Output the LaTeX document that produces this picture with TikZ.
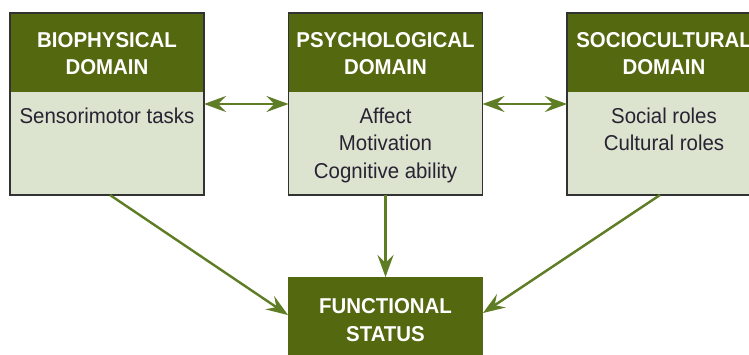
\documentclass[tikz,border=0pt]{standalone}
\usepackage{fontspec}
\setmainfont[FakeStretch=0.95]{Liberation Sans}
\usetikzlibrary{arrows.meta}
\definecolor{hdrgreen}{RGB}{84,104,16}
\definecolor{bodygreen}{RGB}{220,227,207}
\definecolor{arrowgreen}{RGB}{94,125,36}
\definecolor{edgegrey}{RGB}{50,50,50}
\definecolor{txtdark}{RGB}{40,35,50}
\begin{document}
\begin{tikzpicture}[x=1pt,y=-1pt,
  bodybox/.style={fill=bodygreen,minimum width=194pt,minimum height=182pt,anchor=north west,inner sep=0pt,outer sep=0pt},
  hdrbox/.style={fill=hdrgreen,minimum width=194pt,minimum height=79pt,anchor=north west,inner sep=0pt,outer sep=0pt},
  frame/.style={draw=edgegrey,line width=1.6pt},
  fsbox/.style={fill=hdrgreen,minimum width=195pt,minimum height=84pt,anchor=north west,inner sep=0pt,outer sep=0pt},
  hdrtext/.style={text=white,font=\fontsize{21.5}{27}\selectfont\bfseries,align=center,anchor=north,inner sep=0pt},
  bodytext/.style={text=txtdark,font=\fontsize{21.5}{27.5}\selectfont,align=center,anchor=north,inner sep=0pt},
  link/.style={draw=arrowgreen,line width=2.4pt,-{Stealth[length=22pt,width=16pt,inset=8pt]}},
  duallink/.style={draw=arrowgreen,line width=2.4pt,{Stealth[length=22pt,width=16pt,inset=8pt]}-{Stealth[length=22pt,width=16pt,inset=8pt]}}]
\useasboundingbox (0,0) rectangle (749,354);
\fill[white] (0,0) rectangle (749,354);
% boxes
\node[bodybox] (b1) at (10,13) {};
\node[hdrbox] (h1) at (10,13) {};
\draw[frame] (b1.north west) rectangle (b1.south east);
\node[bodybox] (b2) at (288.5,13) {};
\node[hdrbox] (h2) at (288.5,13) {};
\draw[frame] (b2.north west) rectangle (b2.south east);
\node[bodybox] (b3) at (567,13) {};
\node[hdrbox] (h3) at (567,13) {};
\draw[frame] (b3.north west) rectangle (b3.south east);
\node[fsbox] (fs) at (288,277) {};
% texts
\node[hdrtext] (t1) at (107,32.6) {BIOPHYSICAL\\DOMAIN};
\node[hdrtext] (t2) at (385.5,32.6) {PSYCHOLOGICAL\\DOMAIN};
\node[hdrtext] (t3) at (664,32.6) {SOCIOCULTURAL\\DOMAIN};
\node[bodytext] (s1) at (107,107.3) {Sensorimotor tasks};
\node[bodytext] (s2) at (385.5,107.3) {Affect\\Motivation\\Cognitive ability};
\node[bodytext] (s3) at (664,107.3) {Social roles\\Cultural roles};
\node[hdrtext,font=\fontsize{21.5}{28}\selectfont\bfseries] (tf) at (385.5,298.6) {FUNCTIONAL\\STATUS};
% connectors
\coordinate (mid) at (0,104);
\draw[duallink] (b1.east |- mid) -- (b2.west |- mid);
\draw[duallink] (b2.east |- mid) -- (b3.west |- mid);
\draw[link] (b2.south) -- (fs.north);
\draw[link] ([xshift=3pt]b1.south) -- ([yshift=4pt]fs.west);
\draw[link] ([xshift=-4pt]b3.south) -- ([yshift=6pt]fs.east);
\end{tikzpicture}
\end{document}
